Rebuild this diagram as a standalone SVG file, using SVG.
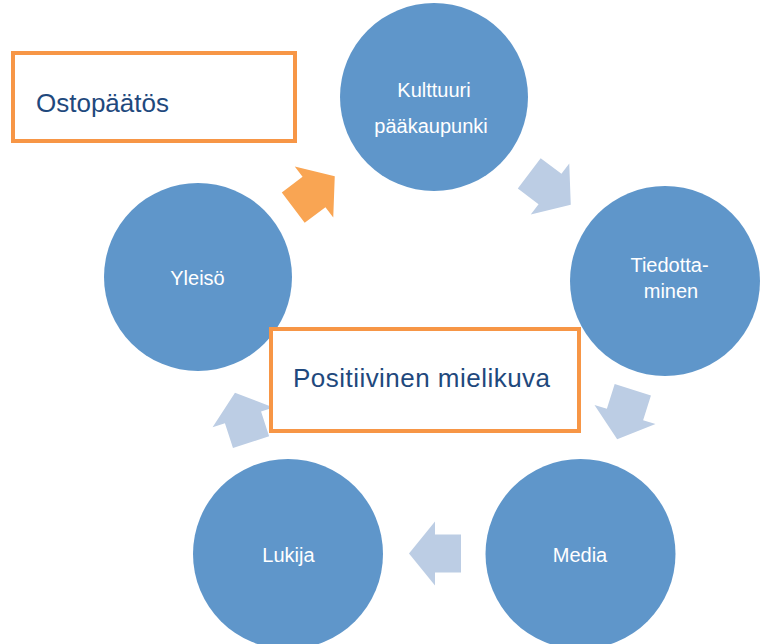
<svg xmlns="http://www.w3.org/2000/svg" width="760" height="644" viewBox="0 0 760 644">
<defs>
<style>
.c{fill:#5F96CA;}
.ct{fill:#FFFFFF;font-family:"Liberation Sans",Arial,sans-serif;font-size:20px;text-anchor:middle;}
.box{fill:#FFFFFF;stroke:#F79646;stroke-width:4;}
.bt{fill:#1F497D;font-family:"Liberation Sans",Arial,sans-serif;font-size:26px;}
.al{fill:#BCCDE4;}
.ao{fill:#F9A553;}
</style>
<path id="arr" d="M-26,-19 L0,-19 L0,-32 L26,0 L0,32 L0,19 L-26,19 Z"/>
</defs>
<rect width="760" height="644" fill="#FFFFFF"/>
<g id="connectors">
<use href="#arr" class="ao" transform="translate(314,192) rotate(-37)"/>
<use href="#arr" class="al" transform="translate(550,189) rotate(37)"/>
<use href="#arr" class="al" transform="translate(625,414.5) rotate(107.5)"/>
<use href="#arr" class="al" transform="translate(435,553.5) rotate(180)"/>
<use href="#arr" class="al" transform="translate(243,417.4) rotate(-108)"/>
</g>
<g id="kulttuuri">
<circle class="c" cx="434" cy="97" r="94"/>
<text class="ct" x="434" y="97">Kulttuuri</text>
<text class="ct" x="431" y="133">pääkaupunki</text>
</g>
<g id="tiedottaminen">
<circle class="c" cx="665" cy="281" r="95"/>
<text class="ct" x="669.5" y="272">Tiedotta-</text>
<text class="ct" x="671" y="298">minen</text>
</g>
<g id="media">
<circle class="c" cx="580.5" cy="554" r="95"/>
<text class="ct" x="580" y="562">Media</text>
</g>
<g id="lukija">
<circle class="c" cx="288" cy="554" r="95"/>
<text class="ct" x="288.5" y="562">Lukija</text>
</g>
<g id="yleiso">
<circle class="c" cx="198" cy="277" r="94"/>
<text class="ct" x="197.5" y="285">Yleisö</text>
</g>
<g id="ostopaatos">
<rect class="box" x="13" y="53" width="282" height="88"/>
<text class="bt" x="36" y="112">Ostopäätös</text>
</g>
<g id="positiivinen">
<rect class="box" x="271" y="329" width="308" height="102"/>
<text class="bt" x="293" y="387" textLength="257">Positiivinen mielikuva</text>
</g>
</svg>
